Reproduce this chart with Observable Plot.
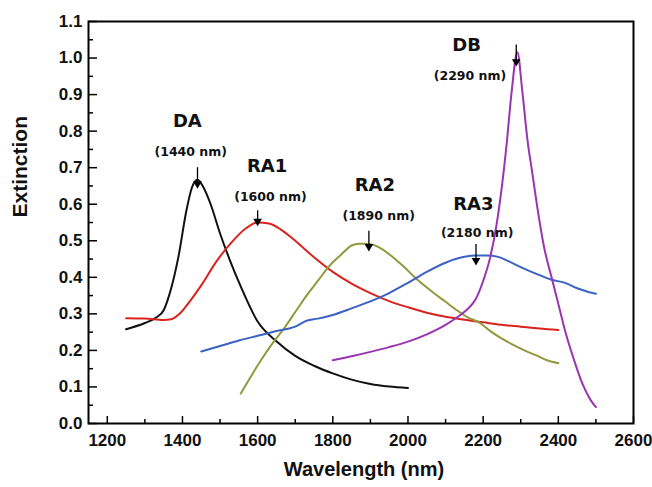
<!DOCTYPE html>
<html><head><meta charset="utf-8">
<script src="https://cdn.jsdelivr.net/npm/d3@7"></script>
<script src="https://cdn.jsdelivr.net/npm/@observablehq/plot@0.6"></script>
<style>body{margin:0;background:#fff}#chart{width:652px;height:487px}</style>
</head><body><div id="chart"></div>
<script>
// ---- ticks ----
const xTicks = [1200, 1400, 1600, 1800, 2000, 2200, 2400, 2600];
const xMinor = [1300, 1500, 1700, 1900, 2100, 2300, 2500];
const yTicks = [0, 0.1, 0.2, 0.3, 0.4, 0.5, 0.6, 0.7, 0.8, 0.9, 1.0, 1.1];
const yMinor = [0.05, 0.15, 0.25, 0.35, 0.45, 0.55, 0.65, 0.75, 0.85, 0.95, 1.05];

// ---- series ----
const seriesNames = ["DA", "RA1", "RA2", "RA3", "DB"];
const seriesColors = ["#111111", "#d9231f", "#8f9a3c", "#3a62c4", "#9a34b0"];

const daX = [1250, 1300, 1330, 1350, 1370, 1390, 1410, 1425, 1440, 1455, 1475, 1500, 1525, 1555, 1600, 1650, 1700, 1750, 1800, 1850, 1900, 1950, 2000];
const daY = [0.258, 0.275, 0.29, 0.31, 0.37, 0.46, 0.58, 0.645, 0.667, 0.648, 0.60, 0.52, 0.45, 0.375, 0.279, 0.225, 0.185, 0.158, 0.137, 0.12, 0.108, 0.101, 0.097];

const ra1X = [1250, 1300, 1350, 1370, 1390, 1420, 1450, 1490, 1530, 1570, 1600, 1630, 1660, 1700, 1750, 1800, 1850, 1900, 1950, 2000, 2050, 2100, 2150, 2200, 2250, 2300, 2350, 2400];
const ra1Y = [0.288, 0.287, 0.283, 0.285, 0.298, 0.335, 0.378, 0.443, 0.495, 0.535, 0.550, 0.547, 0.532, 0.500, 0.455, 0.415, 0.383, 0.357, 0.335, 0.318, 0.303, 0.292, 0.284, 0.277, 0.270, 0.265, 0.260, 0.256];

const ra2X = [1555, 1580, 1610, 1640, 1670, 1700, 1730, 1760, 1790, 1820, 1850, 1870, 1890, 1910, 1930, 1960, 1990, 2020, 2060, 2100, 2130, 2160, 2190, 2220, 2250, 2280, 2310, 2340, 2370, 2400];
const ra2Y = [0.082, 0.125, 0.175, 0.22, 0.26, 0.305, 0.35, 0.39, 0.43, 0.46, 0.487, 0.492, 0.492, 0.488, 0.478, 0.455, 0.428, 0.398, 0.364, 0.333, 0.31, 0.29, 0.276, 0.252, 0.232, 0.215, 0.2, 0.187, 0.173, 0.165];

const ra3X = [1450, 1500, 1550, 1600, 1650, 1700, 1730, 1760, 1800, 1850, 1900, 1950, 2000, 2050, 2100, 2150, 2180, 2210, 2240, 2270, 2300, 2340, 2380, 2420, 2450, 2480, 2500];
const ra3Y = [0.197, 0.212, 0.227, 0.24, 0.253, 0.265, 0.281, 0.287, 0.297, 0.315, 0.334, 0.357, 0.385, 0.415, 0.44, 0.456, 0.46, 0.46, 0.456, 0.443, 0.428, 0.41, 0.394, 0.384, 0.37, 0.36, 0.355];

const dbX = [1800, 1850, 1900, 1950, 2000, 2050, 2100, 2130, 2155, 2180, 2200, 2220, 2235, 2250, 2263, 2276, 2291, 2304, 2318, 2331, 2344, 2362, 2384, 2402, 2420, 2442, 2464, 2486, 2500];
const dbY = [0.173, 0.184, 0.196, 0.209, 0.224, 0.244, 0.27, 0.29, 0.31, 0.34, 0.39, 0.46, 0.54, 0.65, 0.77, 0.91, 1.016, 0.911, 0.775, 0.684, 0.592, 0.483, 0.392, 0.319, 0.246, 0.173, 0.109, 0.064, 0.045];

// ---- annotations ----
const annNames = ["DA", "RA1", "RA2", "RA3", "DB"];
const annPeaks = ["(1440 nm)", "(1600 nm)", "(1890 nm)", "(2180 nm)", "(2290 nm)"];
const nameX = [1413, 1625, 1912, 2174, 2156];
const nameY = [0.827, 0.704, 0.652, 0.600, 1.034];
const peakLabelX = [1422, 1634, 1922, 2184, 2165];
const peakLabelY = [0.743, 0.620, 0.568, 0.520, 0.952];
const arrowX = [1440, 1600, 1896, 2181, 2288];
const arrowY1 = [0.700, 0.582, 0.526, 0.490, 1.036];
const arrowY2 = [0.648, 0.545, 0.476, 0.438, 0.982];

const curves = [[daX, daY], [ra1X, ra1Y], [ra2X, ra2Y], [ra3X, ra3Y], [dbX, dbY]];
const data = curves.flatMap(([xs, ys], i) => xs.map((x, j) => ({series: seriesNames[i], x, y: ys[j]})));
const ann = annNames.map((n, i) => ({name: n, peak: annPeaks[i], nx: nameX[i], ny: nameY[i], px: peakLabelX[i], py: peakLabelY[i], ax: arrowX[i], ay1: arrowY1[i], ay2: arrowY2[i]}));

const W = 652, H = 487, mL = 88, mR = 19, mT = 21, mB = 64;
const iW = W - mL - mR, iH = H - mT - mB;
const annFont = "DejaVu Sans, sans-serif";

const chart = Plot.plot({
  width: W, height: H,
  marginLeft: mL, marginRight: mR, marginTop: mT, marginBottom: mB,
  style: "font-family: 'Liberation Sans', Arial, sans-serif; font-weight: bold; font-size: 17px; color: #000; background: #fff;",
  x: {domain: [1150, 2600]},
  y: {domain: [0, 1.1]},
  color: {domain: seriesNames, range: seriesColors},
  marks: [
    Plot.line(data, {x: "x", y: "y", z: "series", stroke: "series", strokeWidth: 2, curve: "monotone-x"}),
    Plot.tickX(xTicks, {x: d => d, insetTop: iH - 7, stroke: "#000", strokeWidth: 1.5}),
    Plot.tickX(xMinor, {x: d => d, insetTop: iH - 4, stroke: "#000", strokeWidth: 1.5}),
    Plot.tickY(yTicks, {y: d => d, insetRight: iW - 9, stroke: "#000", strokeWidth: 1.5}),
    Plot.tickY(yMinor, {y: d => d, insetRight: iW - 5, stroke: "#000", strokeWidth: 1.5}),
    Plot.axisX({ticks: xTicks, tickSize: 0, tickPadding: 10, label: null, tickFormat: d => String(d), fontSize: 17, fontWeight: "bold", fill: "#111"}),
    Plot.axisY({ticks: yTicks, tickSize: 0, tickPadding: 6, label: null, tickFormat: d => d.toFixed(1), fontSize: 17, fontWeight: "bold", fill: "#111"}),
    Plot.frame({stroke: "#000", strokeWidth: 2}),
    Plot.ruleX(ann, {x: "ax", y1: "ay1", y2: "ay2", stroke: "#000", strokeWidth: 1.3}),
    Plot.dot(ann, {x: "ax", y: "ay2", symbol: "triangle", rotate: 180, r: 3.2, fill: "#000", stroke: "none", dy: -3}),
    Plot.text(ann, {x: "nx", y: "ny", text: "name", fontFamily: annFont, fontWeight: "bold", fontSize: 18, fill: "#111", lineAnchor: "middle"}),
    Plot.text(ann, {x: "px", y: "py", text: "peak", fontFamily: annFont, fontWeight: "bold", fontSize: 12.5, fill: "#111", lineAnchor: "middle"}),
    Plot.text(["Wavelength (nm)"], {frameAnchor: "bottom", lineAnchor: "middle", dy: 46, dx: 3, fontSize: 20, fontWeight: "bold", fill: "#111"}),
    Plot.text(["Extinction"], {frameAnchor: "left", lineAnchor: "middle", rotate: -90, dx: -68, dy: -5, fontSize: 21, fontWeight: "bold", fill: "#111"})
  ]
});
document.getElementById("chart").appendChild(chart);
</script>
</body></html>
